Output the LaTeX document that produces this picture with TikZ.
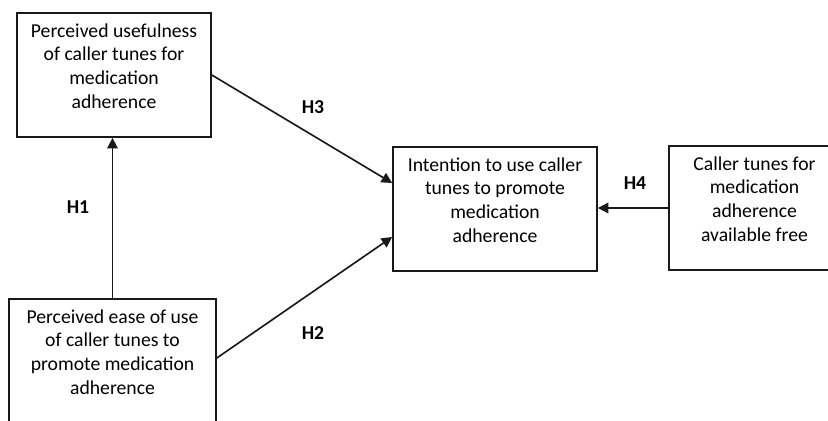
\documentclass[tikz,border=0pt]{standalone}
\usepackage{fontspec}
\setmainfont{Carlito}
\usetikzlibrary{arrows.meta,positioning}

\tikzset{
	box/.style={draw=black!90, line width=1.4pt, align=center, inner xsep=0pt, inner ysep=9pt,
		anchor=north, text depth=0.555cm, font=\fontsize{16.8}{20.2}\selectfont},
	link/.style={draw=black!90, line width=1.4pt, -{Triangle[length=9pt,width=9pt]}},
	hyp/.style={font=\fontsize{16.8}{20.2}\selectfont\bfseries}
}

\begin{document}
\begin{tikzpicture}[x=0.03cm,y=0.03cm]
		
		\useasboundingbox (0,0) rectangle (828,421);
		\clip (0,0) rectangle (828,421);
		
		% Boxes
		\node[box, minimum width=5.82cm] (useful) at (114,409)
		{Perceived usefulness\\of caller tunes for\\medication\\adherence};
		\node[box, minimum width=6.21cm, text depth=1.5cm] (ease) at (112.5,123)
		{Perceived ease of use\\of caller tunes to\\promote medication\\adherence};
		\node[box, minimum width=6.12cm] (intent) at (495,275)
		{Intention to use caller\\tunes to promote\\medication\\adherence};
		\node[box, minimum width=5.13cm] (free) at (754.5,276)
		{Caller tunes for\\medication\\adherence\\available free};
		
		% Arrows
		\draw[link] (ease.north) -- (ease.north |- useful.south);
		\draw[link] ([yshift=-1.89cm]useful.north east) -- ([yshift=-1.11cm]intent.north west);
		\draw[link] ([yshift=-1.8cm]ease.north east) -- ([yshift=-2.73cm]intent.north west);
		\draw[link] ([yshift=-1.89cm]free.north west) -- ([yshift=-1.89cm]free.north west -| intent.east);
		
		% Labels
		\node[hyp] (h1) at (78,214) {H1};
		\node[hyp] (h2) at (313,88) {H2};
		\node[hyp] (h3) at (313,314) {H3};
		\node[hyp] (h4) at (635,238) {H4};
		
\end{tikzpicture}
\end{document}
